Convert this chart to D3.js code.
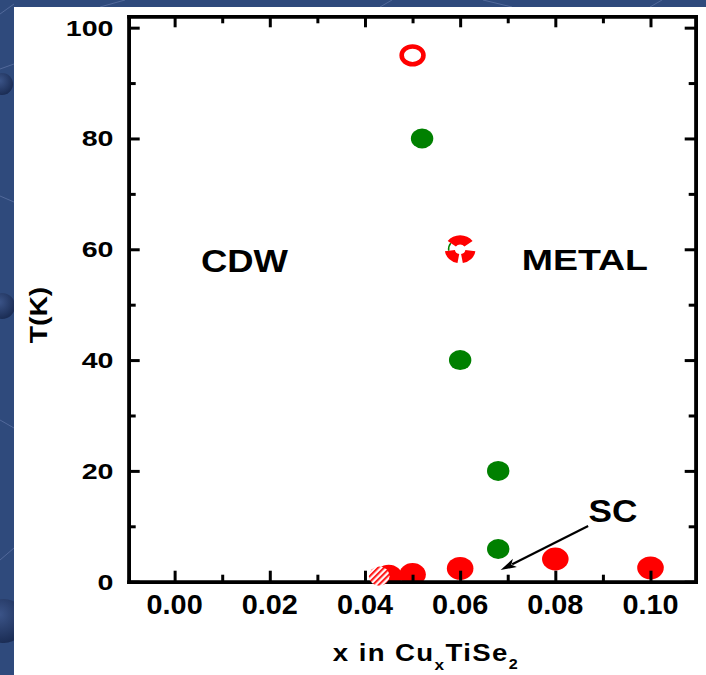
<!DOCTYPE html>
<html>
<head>
<meta charset="utf-8">
<script src="https://cdn.jsdelivr.net/npm/d3@7"></script>
<style>
  html, body { margin: 0; padding: 0; background: #2f4a7c; }
  svg { display: block; }
  text { font-family: "Liberation Sans", Arial, sans-serif; font-weight: bold; fill: #000; }
</style>
</head>
<body>
<script>
// ---- data ----
const xTickValues = [0.00, 0.02, 0.04, 0.06, 0.08, 0.10];
const xTickLabels = ["0.00", "0.02", "0.04", "0.06", "0.08", "0.10"];
const xMinorValues = [0.01, 0.03, 0.05, 0.07, 0.09];
const yTickValues = [0, 20, 40, 60, 80, 100];
const yTickLabels = ["0", "20", "40", "60", "80", "100"];
const yMinorValues = [10, 30, 50, 70, 90];

// superconducting transition (filled red)
const scX = [0.045, 0.050, 0.060, 0.080, 0.100];
const scT = [1.0, 1.3, 2.4, 4.1, 2.5];
// superconducting, hatched sample
const scHatchX = [0.043];
const scHatchT = [1.0];
// CDW transition (green)
const cdwX = [0.052, 0.060, 0.068, 0.068];
const cdwT = [80, 40, 20, 5.9];
// open red marker
const openX = [0.050];
const openT = [95];
// broken red ring marker
const ringX = [0.060];
const ringT = [60];

const W = 706, H = 675;
const svg = d3.select("body").append("svg").attr("width", W).attr("height", H);
const defs = svg.append("defs");

// ---- slide backdrop ----
svg.append("rect").attr("width", W).attr("height", H).attr("fill", "#2f4a7c");
const grad = defs.append("radialGradient").attr("id", "ball").attr("cx", "40%").attr("cy", "35%").attr("r", "65%");
grad.append("stop").attr("offset", "0%").attr("stop-color", "#3b5488");
grad.append("stop").attr("offset", "100%").attr("stop-color", "#1b2d55");
const deco = svg.append("g");
[[0, 14, 14, 4], [0, 69, 14, 64], [0, 196, 14, 202], [0, 420, 14, 428], [100, 7, 125, 0],
 [380, 7, 392, 0], [483, 0, 512, 7], [650, 7, 662, 0], [0, 560, 14, 548]].forEach(s => {
  deco.append("line").attr("x1", s[0]).attr("y1", s[1]).attr("x2", s[2]).attr("y2", s[3])
    .attr("stroke", "#52699a").attr("stroke-width", 1);
});
[[2, 84, 11], [2, 306, 13], [4, 621, 22]].forEach(c => {
  deco.append("circle").attr("cx", c[0]).attr("cy", c[1]).attr("r", c[2]).attr("fill", "url(#ball)");
});
svg.append("rect").attr("x", 14).attr("y", 7).attr("width", W - 14).attr("height", H - 7).attr("fill", "#fff");

// ---- scales ----
const x = d3.scaleLinear().domain([-0.00965, 0.1095]).range([128.7, 695.7]);
const y = d3.scaleLinear().domain([0, 102.05]).range([581.7, 16.3]);
const [x0, x1] = x.range();
const [y0, y1] = y.range();

// text helper with horizontal stretch
function stretchedText(parent, px, py, txt, size, sx, anchor, rot) {
  const g = parent.append("g")
    .attr("transform", `translate(${px},${py})` + (rot ? ` rotate(${rot})` : "") + ` scale(${sx},1)`);
  return g.append("text").attr("text-anchor", anchor || "middle").attr("font-size", size).text(txt);
}

// ---- markers clipped to plot box ----
defs.append("clipPath").attr("id", "plotClip").append("rect")
  .attr("x", x0).attr("y", y1).attr("width", x1 - x0).attr("height", y0 - y1);

const pts = svg.append("g").attr("clip-path", "url(#plotClip)");
pts.selectAll("ellipse.sc").data(scX.map((v, i) => [v, scT[i]])).join("ellipse")
  .attr("class", "sc").attr("cx", d => x(d[0])).attr("cy", d => y(d[1]))
  .attr("rx", 13.3).attr("ry", 11.4).attr("fill", "#ff0000");

pts.selectAll("ellipse.cdw").data(cdwX.map((v, i) => [v, cdwT[i]])).join("ellipse")
  .attr("class", "cdw").attr("cx", d => x(d[0])).attr("cy", d => y(d[1]))
  .attr("rx", 11.2).attr("ry", 10).attr("fill", "#008000");

pts.selectAll("ellipse.open").data(openX.map((v, i) => [v, openT[i]])).join("ellipse")
  .attr("class", "open").attr("cx", d => x(d[0])).attr("cy", d => y(d[1]))
  .attr("rx", 10.9).attr("ry", 8.9).attr("fill", "#fff").attr("stroke", "#ff0000").attr("stroke-width", 4.6);

// broken ring: three thick segments and a thin green arc
const deg = Math.PI / 180;
const seg = d3.arc().innerRadius(5).outerRadius(14.5);
const ringSegs = [[-54, 54], [98, 170], [190, 262]];
ringX.forEach((v, i) => {
  const g = pts.append("g").attr("transform", `translate(${x(v)},${y(ringT[i])}) scale(1.06,0.96)`);
  g.append("path").attr("d", d3.arc().innerRadius(10.2).outerRadius(11.6)({ startAngle: 262 * deg, endAngle: 306 * deg }))
    .attr("fill", "#008000");
  ringSegs.forEach(s => {
    g.append("path").attr("d", seg({ startAngle: s[0] * deg, endAngle: s[1] * deg })).attr("fill", "#ff0000");
  });
});

// ---- axes ----
const axG = svg.append("g");
function frameAxis(axis, tx, ty, vals, size) {
  const g = axG.append("g").attr("transform", `translate(${tx},${ty})`)
    .call(axis.tickValues(vals).tickSize(size).tickSizeOuter(0).tickFormat(""));
  g.select(".domain").attr("stroke", "#000").attr("stroke-width", 3.6).attr("stroke-linecap", "square");
  g.selectAll(".tick line").attr("stroke", "#000").attr("stroke-width", 3);
  return g;
}
frameAxis(d3.axisBottom(x), 0, y0, xTickValues, -11);
frameAxis(d3.axisBottom(x), 0, y0, xMinorValues, -7);
frameAxis(d3.axisTop(x), 0, y1, xTickValues, -11);
frameAxis(d3.axisTop(x), 0, y1, xMinorValues, -7);
frameAxis(d3.axisLeft(y), x0, 0, yTickValues, -11);
frameAxis(d3.axisLeft(y), x0, 0, yMinorValues, -7);
frameAxis(d3.axisRight(y), x1, 0, yTickValues, -11);
frameAxis(d3.axisRight(y), x1, 0, yMinorValues, -7);

// tick labels
xTickValues.forEach((v, i) => stretchedText(svg, x(v), 614, xTickLabels[i], 28, 1.03, "middle"));
yTickValues.forEach((v, i) => stretchedText(svg, 113.5, y(v) + 8, yTickLabels[i], 22, 1.3, "end"));

// axis titles
stretchedText(svg, 47, 315, "T(K)", 24, 1.18, "middle", -90);
const tt = stretchedText(svg, 426, 661, "", 24, 1.15, "middle").attr("letter-spacing", 1.2);
tt.append("tspan").text("x in Cu");
tt.append("tspan").attr("font-size", 15).attr("dy", 9).text("x");
tt.append("tspan").attr("dy", -9).text("TiSe");
tt.append("tspan").attr("font-size", 14).attr("dy", 8).text("2");

// hatched marker drawn over the axis
const pat = defs.append("pattern").attr("id", "hatch").attr("patternUnits", "userSpaceOnUse")
  .attr("width", 4.2).attr("height", 4.2).attr("patternTransform", "rotate(45)");
pat.append("rect").attr("width", 4.2).attr("height", 4.2).attr("fill", "#fff");
pat.append("rect").attr("width", 2.1).attr("height", 4.2).attr("fill", "#ff2020");
svg.selectAll("ellipse.hatch").data(scHatchX.map((v, i) => [v, scHatchT[i]])).join("ellipse")
  .attr("class", "hatch").attr("cx", d => x(d[0])).attr("cy", d => y(d[1]))
  .attr("rx", 10.3).attr("ry", 9.7).attr("fill", "url(#hatch)");

// ---- region labels ----
stretchedText(svg, x(0.01468), y(55.9), "CDW", 32, 1.14, "middle");
stretchedText(svg, x(0.0862), y(56.3), "METAL", 30, 1.25, "middle");
stretchedText(svg, x(0.0921), y(10.75), "SC", 32, 1.1, "middle");

// arrow from the SC label
const ax1 = x(0.0869), ay1 = y(10.05), ax2 = x(0.0685), ay2 = y(2.1);
const ang = Math.atan2(ay2 - ay1, ax2 - ax1);
const hl = 16, hw = 4.5;
const bx = ax2 - hl * Math.cos(ang), by = ay2 - hl * Math.sin(ang);
svg.append("line").attr("x1", ax1).attr("y1", ay1).attr("x2", bx + 3 * Math.cos(ang)).attr("y2", by + 3 * Math.sin(ang))
  .attr("stroke", "#000").attr("stroke-width", 2.2);
svg.append("polygon").attr("points", [
  [ax2, ay2],
  [bx + hw * Math.sin(ang), by - hw * Math.cos(ang)],
  [bx + 4 * Math.cos(ang), by + 4 * Math.sin(ang)],
  [bx - hw * Math.sin(ang), by + hw * Math.cos(ang)]
].map(p => p.join(",")).join(" ")).attr("fill", "#000");
</script>
</body>
</html>
